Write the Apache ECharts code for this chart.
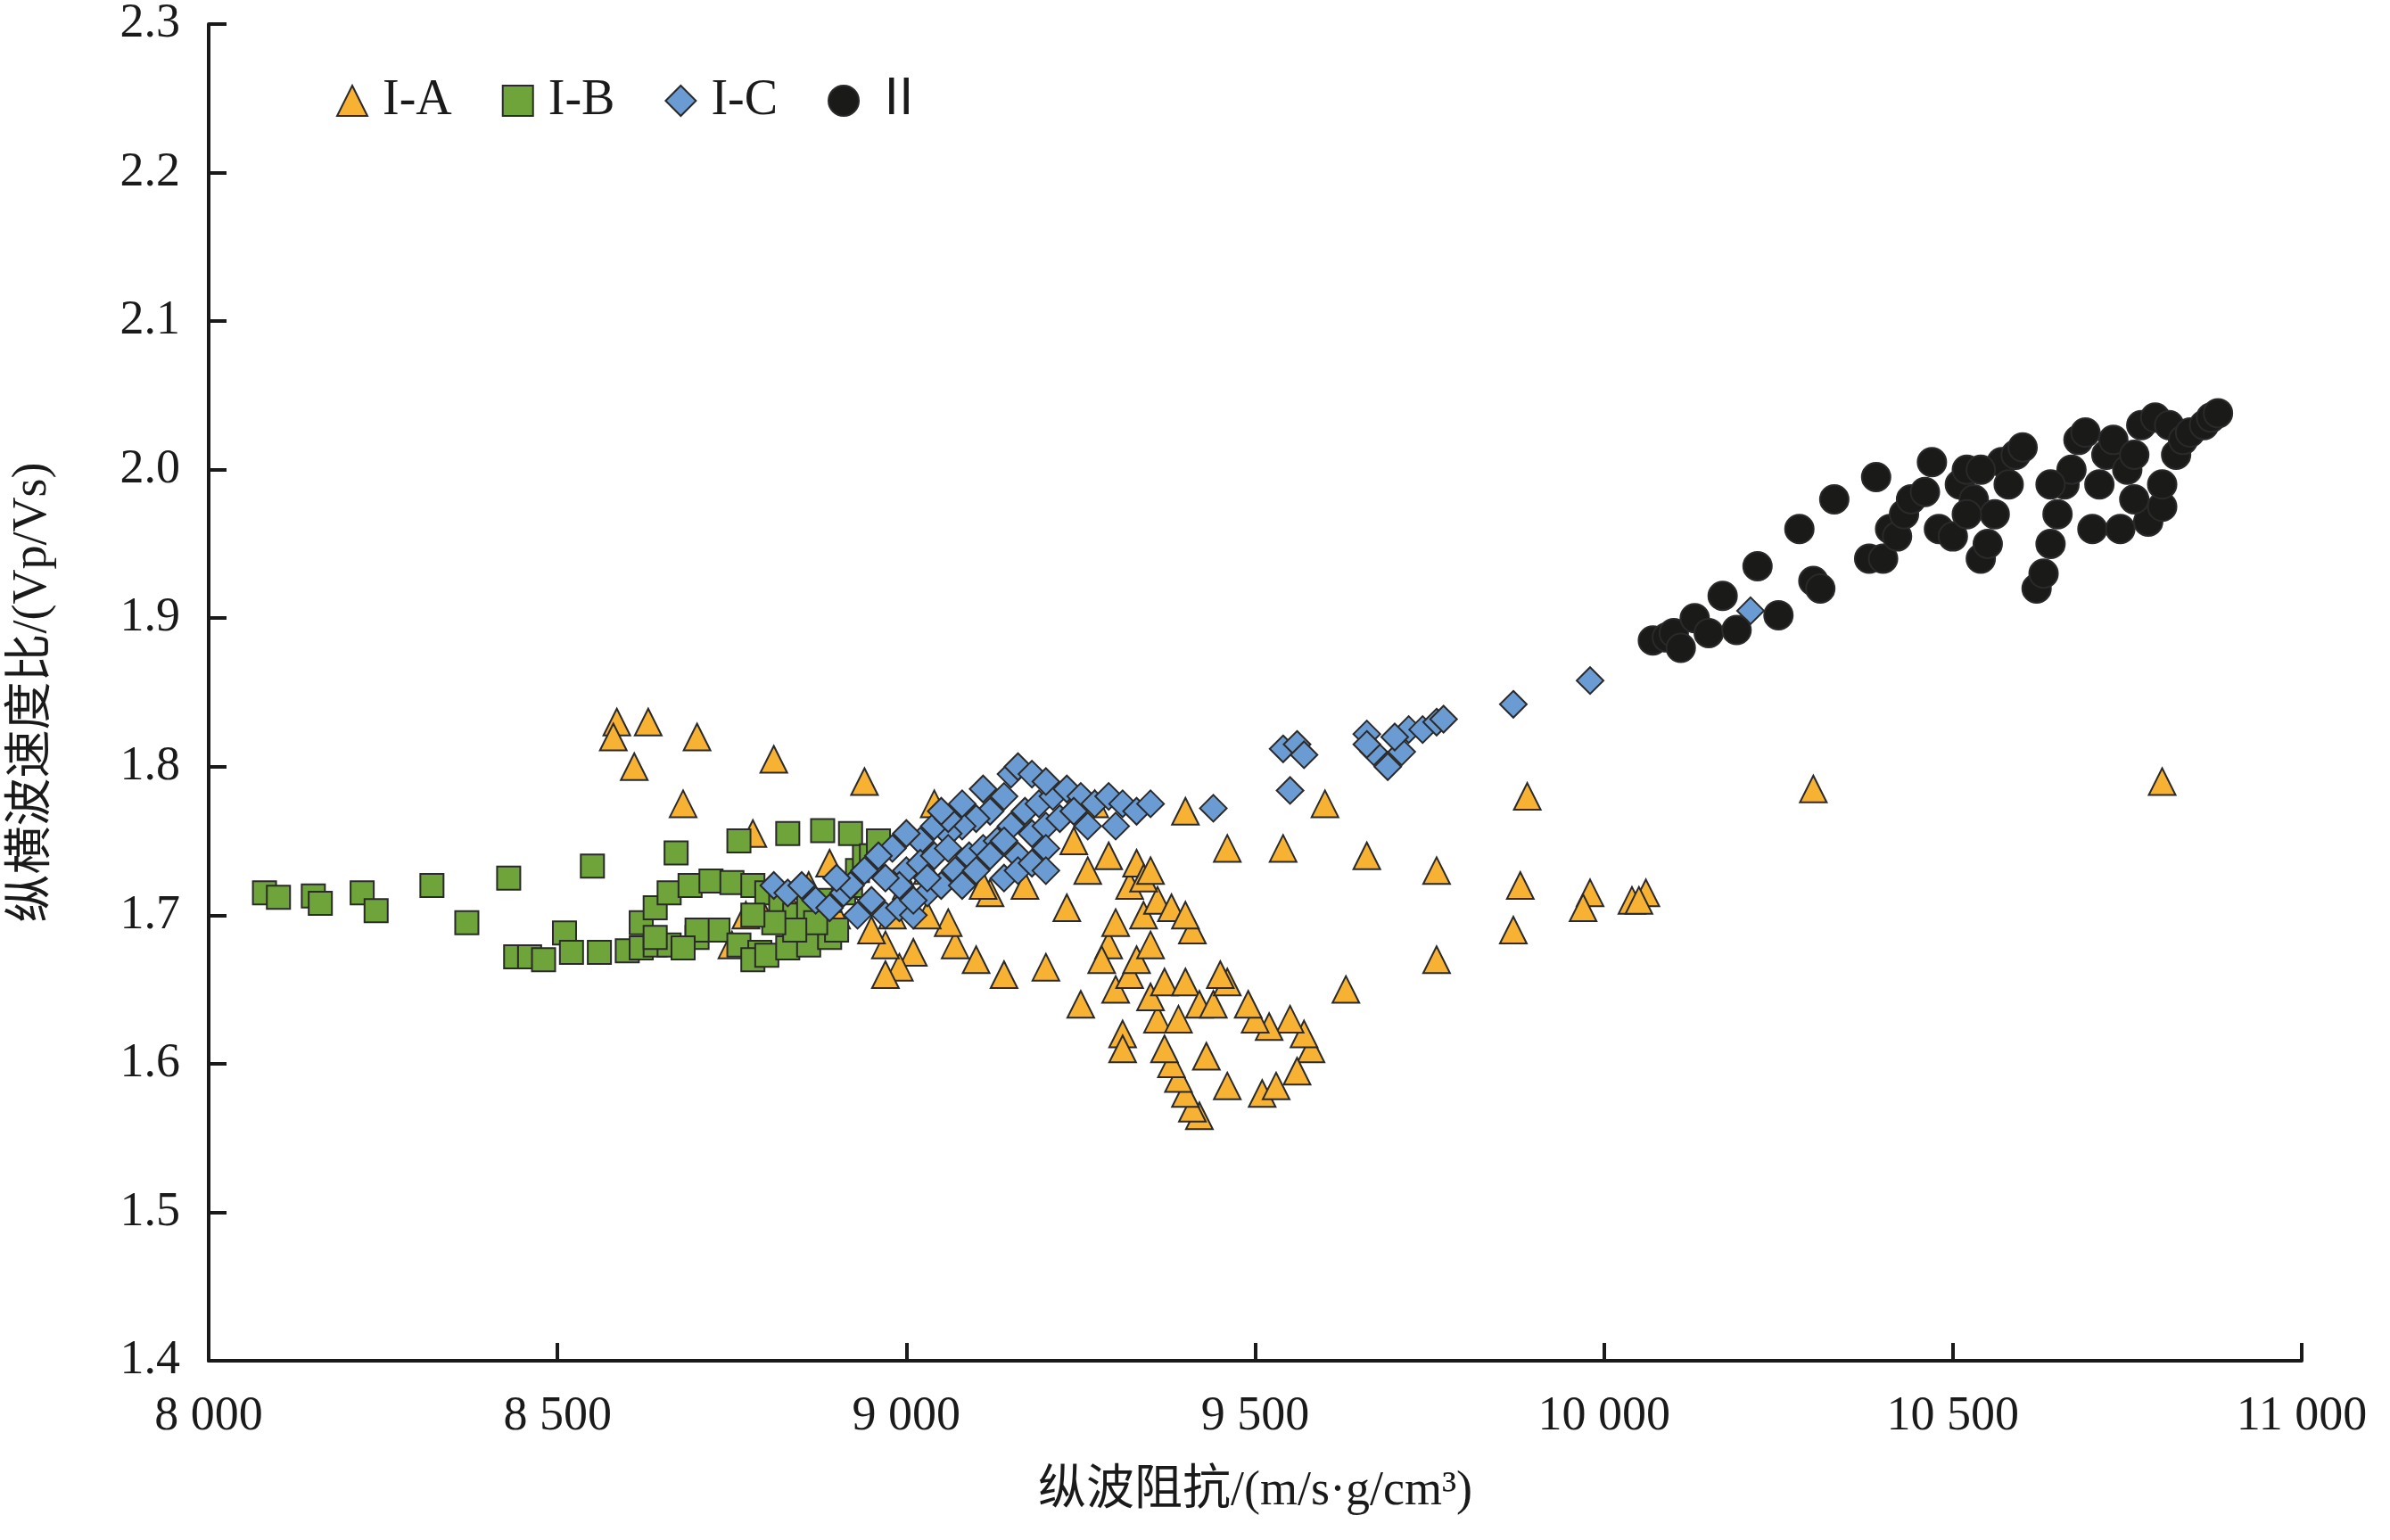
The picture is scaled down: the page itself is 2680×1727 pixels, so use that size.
<!DOCTYPE html>
<html>
<head>
<meta charset="utf-8">
<script src="https://cdn.jsdelivr.net/npm/echarts@6/dist/echarts.min.js"></script>
<style>html,body{margin:0;padding:0;background:#fff}#main{width:2680px;height:1727px}</style>
</head>
<body>
<div id="main"></div>
<script>
// 数据：[纵波阻抗, 纵横波速度比]
const seriesNames = ['I-A', 'I-B', 'I-C', 'Ⅱ'];
const xTicks = [8000, 8500, 9000, 9500, 10000, 10500, 11000];

const dataIA = [
  [8585,1.83],[8580,1.82],[8630,1.83],[8610,1.80],[8700,1.82],[8680,1.775],[8810,1.805],[8940,1.79],
  [8780,1.755],[8770,1.70],[9040,1.775],[9270,1.775],[9400,1.77],[9460,1.745],[9540,1.745],[9600,1.775],
  [9660,1.74],[9760,1.73],[9890,1.78],[9880,1.72],[9980,1.715],[9970,1.705],[10040,1.71],[10060,1.715],
  [10050,1.71],[10300,1.785],[10800,1.79],[9870,1.69],[9760,1.67],[9630,1.65],[9580,1.61],[9570,1.62],
  [9550,1.63],[9520,1.625],[9500,1.63],[9490,1.64],[9510,1.58],[9460,1.585],[9530,1.585],[9560,1.595],
  [9420,1.565],[9410,1.57],[9400,1.58],[9390,1.59],[9380,1.60],[9370,1.61],[9360,1.63],[9350,1.645],
  [9370,1.655],[9400,1.655],[9420,1.64],[9440,1.64],[9460,1.655],[9430,1.605],[9390,1.63],[9310,1.62],
  [9300,1.65],[9320,1.66],[9330,1.67],[9350,1.68],[9340,1.70],[9360,1.71],[9380,1.705],[9410,1.69],
  [9400,1.70],[9290,1.68],[9300,1.695],[9320,1.72],[9330,1.735],[9290,1.74],[9260,1.73],[9240,1.75],
  [9230,1.705],[9250,1.64],[9280,1.67],[9200,1.665],[9140,1.66],[9120,1.715],[9100,1.67],[9070,1.68],
  [9060,1.695],[9030,1.70],[9010,1.675],[8990,1.665],[8970,1.66],[8970,1.68],[8950,1.69],[8980,1.70],
  [9000,1.72],[9030,1.73],[9080,1.73],[9110,1.72],[8900,1.70],[8860,1.72],[8830,1.71],[8790,1.705],
  [8890,1.735],[9170,1.72],[9340,1.725],[9350,1.73],[8750,1.68],[8910,1.72],[9310,1.61],[9450,1.66]
];
const dataIB = [
  [8080,1.715],[8100,1.712],[8150,1.713],[8160,1.708],[8220,1.715],[8240,1.703],[8320,1.72],[8370,1.695],
  [8430,1.725],[8440,1.672],[8460,1.672],[8480,1.67],[8510,1.688],[8520,1.675],[8560,1.675],[8600,1.676],
  [8620,1.678],[8640,1.68],[8620,1.695],[8640,1.705],[8660,1.715],[8690,1.72],[8720,1.723],[8750,1.722],
  [8780,1.72],[8800,1.715],[8820,1.71],[8840,1.70],[8860,1.705],[8890,1.71],[8910,1.715],[8920,1.72],
  [8930,1.73],[8940,1.74],[8920,1.755],[8880,1.757],[8830,1.755],[8760,1.75],[8670,1.742],[8550,1.733],
  [8660,1.68],[8700,1.685],[8730,1.69],[8760,1.68],[8790,1.675],[8780,1.67],[8800,1.673],[8830,1.678],
  [8860,1.68],[8890,1.685],[8900,1.69],[8870,1.695],[8840,1.69],[8810,1.695],[8780,1.70],[8700,1.69],
  [8640,1.685],[8680,1.678],[8950,1.74],[8960,1.75]
];
const dataIC = [
  [8810,1.72],[8830,1.715],[8850,1.72],[8870,1.71],[8890,1.705],[8910,1.715],[8930,1.70],[8950,1.71],
  [8970,1.70],[8990,1.705],[9010,1.70],[9030,1.715],[9050,1.72],[9070,1.73],[9090,1.74],[9110,1.745],
  [9130,1.75],[9150,1.76],[9170,1.77],[9190,1.775],[9210,1.78],[9230,1.785],[9250,1.78],[9270,1.775],
  [9290,1.78],[9310,1.775],[9330,1.77],[9350,1.775],[9150,1.795],[9160,1.80],[9180,1.795],[9200,1.79],
  [9140,1.78],[9120,1.77],[9100,1.765],[9080,1.76],[9060,1.755],[9040,1.76],[9020,1.75],[9000,1.755],
  [8980,1.745],[8960,1.74],[8940,1.73],[8920,1.72],[8900,1.725],[9000,1.73],[9020,1.735],[9040,1.74],
  [9060,1.745],[9080,1.72],[9100,1.73],[9120,1.74],[9140,1.75],[9160,1.74],[9180,1.755],[9200,1.76],
  [9220,1.765],[9240,1.77],[9260,1.76],[9300,1.76],[9200,1.745],[9060,1.765],[9080,1.775],[9110,1.785],
  [9050,1.77],[9030,1.725],[9010,1.71],[8990,1.72],[8970,1.725],[9440,1.772],[9540,1.812],[9560,1.815],
  [9570,1.808],[9550,1.784],[9660,1.822],[9670,1.81],[9690,1.80],[9710,1.81],[9720,1.825],[9700,1.82],
  [9740,1.825],[9760,1.83],[9770,1.832],[9660,1.815],[9870,1.842],[9980,1.858],[10210,1.905],
  [9140,1.725],[9160,1.73],[9180,1.735],[9200,1.73]
];
const dataII = [
  [10070,1.885],[10090,1.887],[10100,1.89],[10110,1.88],[10130,1.90],[10150,1.89],[10170,1.915],[10190,1.892],
  [10220,1.935],[10250,1.902],[10280,1.96],[10300,1.925],[10310,1.92],[10330,1.98],[10380,1.94],[10400,1.94],
  [10390,1.995],[10410,1.96],[10420,1.955],[10430,1.97],[10440,1.98],[10460,1.985],[10470,2.005],[10480,1.96],
  [10500,1.955],[10510,1.99],[10520,2.0],[10530,1.98],[10540,1.94],[10550,1.95],[10560,1.97],[10570,2.005],
  [10580,1.99],[10590,2.01],[10600,2.015],[10620,1.92],[10630,1.93],[10640,1.95],[10650,1.97],[10660,1.99],
  [10670,2.0],[10680,2.02],[10700,1.96],[10710,1.99],[10720,2.01],[10730,2.02],[10740,1.96],[10750,2.0],
  [10760,2.01],[10770,2.03],[10780,1.965],[10790,2.035],[10800,1.975],[10810,2.03],[10820,2.01],[10830,2.02],
  [10840,2.025],[10860,2.03],[10870,2.035],[10880,2.038],[10540,2.0],[10520,1.97],[10640,1.99],[10690,2.025],
  [10760,1.98],[10800,1.99]
];

const chart = echarts.init(document.getElementById('main'));
const font = '"Liberation Serif", "Noto Sans CJK SC", serif';
const axisCommon = {
  axisLine: { lineStyle: { color: '#1a1a1a', width: 4 } },
  axisTick: { inside: true, length: 20, lineStyle: { color: '#1a1a1a', width: 4 } },
  splitLine: { show: false },
  axisLabel: { color: '#1a1a1a', fontSize: 54, fontFamily: font },
  nameTextStyle: { color: '#1a1a1a', fontSize: 54, fontFamily: font }
};
const border = { borderColor: '#2a2a2a', borderWidth: 2, opacity: 1 };

chart.setOption({
  animation: false,
  backgroundColor: '#fff',
  grid: { left: 234, right: 99, top: 17, bottom: 201 },
  legend: {
    left: 372, top: 80, itemGap: 56, itemWidth: 34, itemHeight: 34,
    textStyle: { fontSize: 56, fontFamily: font, color: '#1a1a1a', padding: [0, 0, 0, 12] },
    data: seriesNames
  },
  xAxis: Object.assign({}, axisCommon, {
    type: 'value', min: 8000, max: 11000, interval: 500,
    name: '纵波阻抗/(m/s·g/cm³)', nameLocation: 'middle', nameGap: 120,
    axisLabel: Object.assign({}, axisCommon.axisLabel, {
      margin: 36,
      formatter: v => v >= 1000 ? Math.floor(v / 1000) + ' ' + String(v % 1000).padStart(3, '0') : v
    })
  }),
  yAxis: Object.assign({}, axisCommon, {
    type: 'value', min: 1.4, max: 2.3, interval: 0.1,
    name: '纵横波速度比/(Vp/Vs)', nameLocation: 'middle', nameGap: 170,
    axisLabel: Object.assign({}, axisCommon.axisLabel, { margin: 32, formatter: v => v.toFixed(1) })
  }),
  series: [
    { name: seriesNames[0], type: 'scatter', symbol: 'triangle', symbolSize: 30, data: dataIA,
      itemStyle: Object.assign({ color: '#f7b133' }, border) },
    { name: seriesNames[1], type: 'scatter', symbol: 'rect', symbolSize: 26, data: dataIB,
      itemStyle: Object.assign({ color: '#6ea43a' }, border) },
    { name: seriesNames[2], type: 'scatter', symbol: 'diamond', symbolSize: 30, data: dataIC,
      itemStyle: Object.assign({ color: '#6b9bd3' }, border) },
    { name: seriesNames[3], type: 'scatter', symbol: 'circle', symbolSize: 32, data: dataII,
      itemStyle: Object.assign({ color: '#1a1a18' }, border) }
  ]
});
</script>
</body>
</html>
